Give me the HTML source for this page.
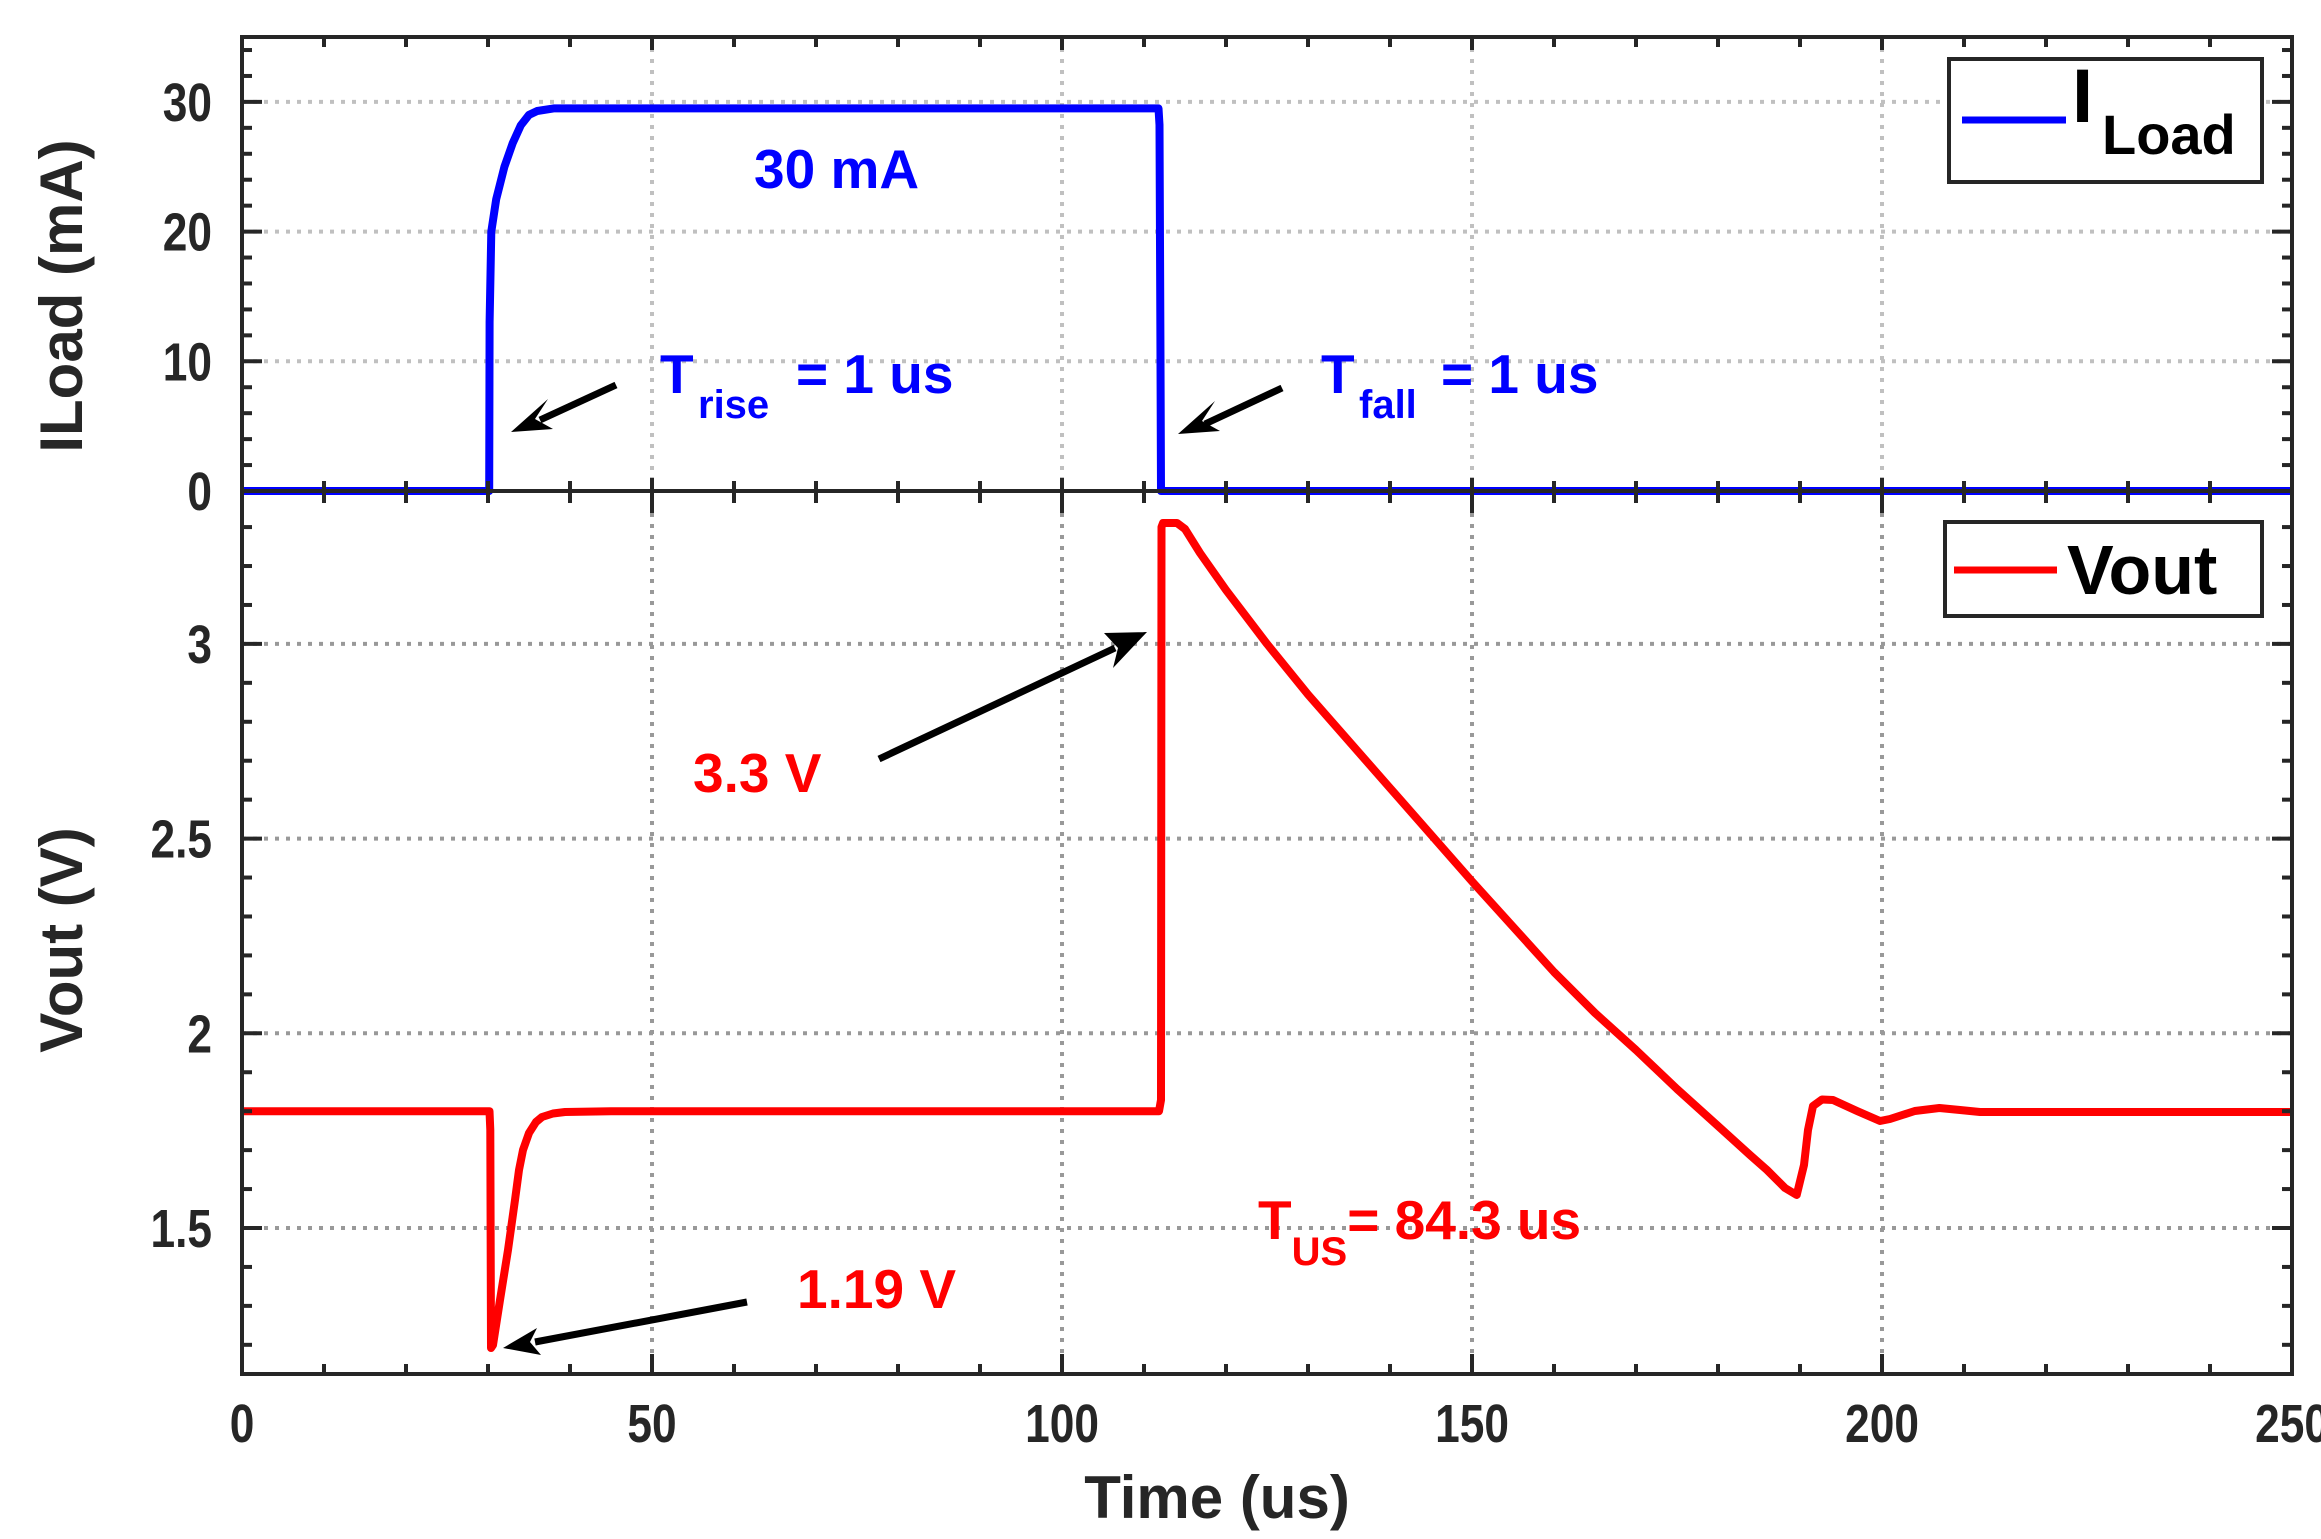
<!DOCTYPE html>
<html><head><meta charset="utf-8"><style>
html,body{margin:0;padding:0;background:#fff;}
svg{display:block;}
text{font-family:"Liberation Sans",Arial,sans-serif;font-weight:bold;}
</style></head><body>
<svg id="s" width="2321" height="1539" viewBox="0 0 2321 1539" xmlns="http://www.w3.org/2000/svg">
<rect width="2321" height="1539" fill="#fff"/>
<g id="grid"></g>
<!-- Iload -->
<polyline fill="none" stroke="#0000ff" stroke-width="8" stroke-linejoin="round" points="242,491 489.2,491 489.6,322 491.3,231.6 496.2,199.2 504.4,166.8 512.6,143.4 520.8,125.3 529,114.9 537.2,111 553.6,108.4 1158.5,108.4 1159.5,125 1160.5,361 1161,491 2292,491"/>
<!-- Vout -->
<polyline fill="none" stroke="#ff0000" stroke-width="8" stroke-linejoin="round" points="242,1111.2 489.5,1111.2 490.3,1130 491,1348 493,1345 500,1300 508,1250 515,1200 519,1170 523,1150 529,1133 536,1122 542,1117 553,1113.5 565,1112 611,1111.2 1159,1111.2 1161,1100 1161.5,527 1163,523 1177,523 1185,529 1200,553 1226,590 1267,643.9 1308,694.5 1390,788 1472,881.4 1554,972 1595,1013 1636,1050 1677,1089 1718,1126 1750,1155 1767,1170 1785,1188 1796.7,1195 1804,1165 1808,1130 1813,1106 1822,1099.5 1833,1100 1857,1111 1880,1121 1890,1119 1914.8,1111 1939.4,1108 1960,1110 1980,1112 2292,1112"/>
<g id="axes"></g>
<!-- arrows -->
<g stroke="#000" stroke-width="7" fill="#000">
<line x1="616" y1="385" x2="540" y2="420"/>
<line x1="1282" y1="388" x2="1205" y2="424"/>
<line x1="879" y1="759" x2="1115" y2="648"/>
<line x1="747" y1="1302" x2="535" y2="1342"/>
</g>
<g fill="#000">
<polygon points="511,432 548,399 535,419 553,429"/>
<polygon points="1178,434 1215,401 1202,421 1220,431"/>
<polygon points="1147,632 1104,633 1118,648 1113,668"/>
<polygon points="503,1348 537,1328 530,1342 541,1355"/>
</g>
<!-- annotations -->
<g fill="#0000ff" font-size="55">
<text x="754" y="188">30 mA</text>
<text x="660" y="393">T</text><text x="698" y="418" font-size="40">rise</text><text x="796" y="393">= 1 us</text>
<text x="1321" y="393">T</text><text x="1359" y="418" font-size="40">fall</text><text x="1441" y="393">= 1 us</text>
</g>
<g fill="#ff0000" font-size="55">
<text x="693" y="792">3.3 V</text>
<text x="797" y="1308">1.19 V</text>
<text x="1258" y="1239">T<tspan font-size="40" dy="26">US</tspan><tspan dy="-26">= 84.3 us</tspan></text>
</g>
<!-- legends -->
<rect x="1949" y="59" width="313" height="123" fill="#fff" stroke="#262626" stroke-width="4"/>
<line x1="1962" y1="120" x2="2066" y2="120" stroke="#0000ff" stroke-width="7"/>
<text x="2072" y="122" font-size="76" fill="#000">I</text>
<text x="2102" y="154" font-size="56" fill="#000">Load</text>
<rect x="1945" y="522" width="317" height="94" fill="#fff" stroke="#262626" stroke-width="4"/>
<line x1="1954" y1="570" x2="2057" y2="570" stroke="#ff0000" stroke-width="7"/>
<text x="2067" y="594" font-size="70" fill="#000">Vout</text>
<!-- labels -->
<g fill="#262626">
<text font-size="60" text-anchor="middle" transform="translate(82,296) rotate(-90)">ILoad (mA)</text>
<text font-size="60" text-anchor="middle" transform="translate(82,940) rotate(-90)">Vout (V)</text>
<text font-size="60" text-anchor="middle" x="1217" y="1518">Time (us)</text>
</g>
<g id="labels" fill="#262626" font-size="54"></g>
</svg>
<script>
var NS="http://www.w3.org/2000/svg";
function el(p,t,a,txt){var e=document.createElementNS(NS,t);for(var k in a)e.setAttribute(k,a[k]);if(txt!=null)e.textContent=txt;document.getElementById(p).appendChild(e);}
var X=function(t){return 242+8.2*t;};
var YT=function(i){return 491-12.97*i;};
var YB=function(v){return 1228-(v-1.5)*389.4;};
var L=242,R=2292,T=37,M=491,B=1374;
var gd={"stroke-width":4,"stroke-dasharray":"4 7"};
function gl(a,b,c,d,col){el("grid","line",{x1:a,y1:b,x2:c,y2:d,stroke:col,"stroke-width":4,"stroke-dasharray":"4 7"});}
[50,100,150,200].forEach(function(t){gl(X(t),T,X(t),M,"#c0c0c0");gl(X(t),M,X(t),B,"#999");});
[10,20,30].forEach(function(i){gl(L,YT(i),R,YT(i),"#c0c0c0");});
[1.5,2,2.5,3].forEach(function(v){gl(L,YB(v),R,YB(v),"#999");});
function ln(a,b,c,d){el("axes","line",{x1:a,y1:b,x2:c,y2:d,stroke:"#262626","stroke-width":4});}
function lab(x,y,anchor,s){el("labels","text",{transform:"translate("+x+","+y+") scale(0.82,1)","text-anchor":anchor},s);}
ln(L,T,R,T);ln(L,B,R,B);ln(L,M,R,M);ln(L,T-2,L,B+2);ln(R,T-2,R,B+2);
for(var t=0;t<=250;t+=10){var x=X(t),mj=t%50==0;
 ln(x,T,x,T+(mj?13:10));ln(x,M,x,M-(mj?13:10));
 ln(x,M,x,M+(mj?22:12));ln(x,B,x,B-(mj?20:10));
 if(mj)lab(x,1442,"middle",String(t));}
for(var i=0;i<=34;i+=2){var y=YT(i),mj=i%10==0,len=mj?20:10;
 ln(L,y,L+len,y);ln(R,y,R-len,y);
 if(mj)lab(212,y+19,"end",String(i));}
for(var k=12;k<=33;k++){var v=k/10,y=YB(v),mj=k%5==0,len=mj?20:10;
 if(y<M+3||y>B-3)continue;
 ln(L,y,L+len,y);ln(R,y,R-len,y);
 if(mj)lab(212,y+19,"end",(k%10==0)?String(k/10):String(v));}
</script>
</body></html>
